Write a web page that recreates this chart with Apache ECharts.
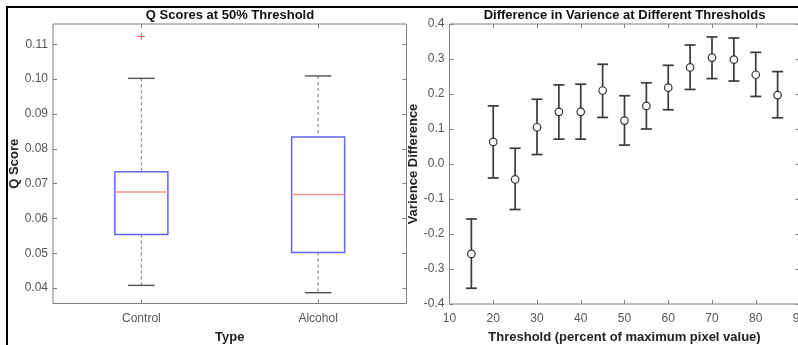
<!DOCTYPE html>
<html>
<head>
<meta charset="utf-8">
<script src="https://cdn.jsdelivr.net/npm/echarts@6/dist/echarts.min.js"></script>
<style>
  html, body { margin: 0; padding: 0; background: #fff; }
  #chart { width: 798px; height: 345px; }
</style>
</head>
<body>
<div id="chart"></div>
<script>
// left panel: box plot of Q scores
const boxCategories = ["Control", "Alcohol"];
const boxLower = [0.0408, 0.0387];
const boxQ1 = [0.0554, 0.0502];
const boxMedian = [0.0676, 0.0669];
const boxQ3 = [0.0734, 0.0834];
const boxUpper = [0.1002, 0.1009];
const outlierCategory = [0];
const outlierValue = [0.1122];
const qScoreTicks = [0.04, 0.05, 0.06, 0.07, 0.08, 0.09, 0.10, 0.11];

// right panel: variance difference with error bars
const thresholds = [15, 20, 25, 30, 35, 40, 45, 50, 55, 60, 65, 70, 75, 80, 85];
const varMean = [-0.257, 0.063, -0.044, 0.105, 0.149, 0.149, 0.210, 0.124, 0.166, 0.218, 0.276, 0.304, 0.298, 0.255, 0.197];
const varLow = [-0.355, -0.040, -0.130, 0.027, 0.071, 0.071, 0.133, 0.054, 0.100, 0.155, 0.213, 0.244, 0.237, 0.193, 0.132];
const varHigh = [-0.157, 0.166, 0.045, 0.185, 0.226, 0.228, 0.285, 0.195, 0.232, 0.282, 0.340, 0.363, 0.360, 0.319, 0.264];

const FONT = "Liberation Sans, Arial, sans-serif";
const axisGray = "#7f7f7f";
const labelGray = "#555555";

const chart = echarts.init(document.getElementById("chart"));

const boxData = boxCategories.map((c, i) => [i, boxLower[i], boxQ1[i], boxMedian[i], boxQ3[i], boxUpper[i]]);
const outlierData = outlierCategory.map((c, i) => [c, outlierValue[i]]);
const errData = thresholds.map((t, i) => [t, varLow[i], varHigh[i]]);
const meanData = thresholds.map((t, i) => [t, varMean[i]]);

function renderBox(params, api) {
  const idx = api.value(0);
  const band = api.size([1, 0])[0];
  const half = band * 0.15;
  const cap = half / 2;
  const lo = api.coord([idx, api.value(1)]);
  const q1 = api.coord([idx, api.value(2)]);
  const med = api.coord([idx, api.value(3)]);
  const q3 = api.coord([idx, api.value(4)]);
  const hi = api.coord([idx, api.value(5)]);
  const x = lo[0];
  const dash = { stroke: "#8a8a8a", lineWidth: 1.2, lineDash: [3, 3] };
  const capStyle = { stroke: "#505050", lineWidth: 1.4 };
  return {
    type: "group",
    children: [
      { type: "line", shape: { x1: x, y1: hi[1], x2: x, y2: q3[1] }, style: dash },
      { type: "line", shape: { x1: x, y1: q1[1], x2: x, y2: lo[1] }, style: dash },
      { type: "line", shape: { x1: x - cap, y1: hi[1], x2: x + cap, y2: hi[1] }, style: capStyle },
      { type: "line", shape: { x1: x - cap, y1: lo[1], x2: x + cap, y2: lo[1] }, style: capStyle },
      { type: "rect", shape: { x: x - half, y: q3[1], width: half * 2, height: q1[1] - q3[1] },
        style: { fill: "none", stroke: "#6464ff", lineWidth: 1.5 } },
      { type: "line", shape: { x1: x - half, y1: med[1], x2: x + half, y2: med[1] },
        style: { stroke: "#ff9090", lineWidth: 1.5 } }
    ]
  };
}

function renderOutlier(params, api) {
  const p = api.coord([api.value(0), api.value(1)]);
  const s = 3.5;
  const st = { stroke: "#ff5050", lineWidth: 1 };
  return {
    type: "group",
    children: [
      { type: "line", shape: { x1: p[0] - s, y1: p[1], x2: p[0] + s, y2: p[1] }, style: st },
      { type: "line", shape: { x1: p[0], y1: p[1] - s, x2: p[0], y2: p[1] + s }, style: st }
    ]
  };
}

function renderErr(params, api) {
  const lo = api.coord([api.value(0), api.value(1)]);
  const hi = api.coord([api.value(0), api.value(2)]);
  const w = 5.5;
  const st = { stroke: "#3a3a3a", lineWidth: 1.7 };
  return {
    type: "group",
    children: [
      { type: "line", shape: { x1: lo[0], y1: lo[1], x2: hi[0], y2: hi[1] }, style: st },
      { type: "line", shape: { x1: lo[0] - w, y1: lo[1], x2: lo[0] + w, y2: lo[1] }, style: st },
      { type: "line", shape: { x1: hi[0] - w, y1: hi[1], x2: hi[0] + w, y2: hi[1] }, style: st }
    ]
  };
}

const noLine = { show: false, onZero: false };
const tickStyle = { show: true, inside: true, length: 4, lineStyle: { color: axisGray, width: 1 } };
const labelStyle = { color: labelGray, fontSize: 12, fontFamily: FONT };
const nameStyle = { color: "#222", fontSize: 13, fontWeight: "bold", fontFamily: FONT };

const option = {
  animation: false,
  backgroundColor: "#fff",
  grid: [
    { left: 53, top: 24, width: 353.5, height: 279.5, show: true, borderColor: axisGray, borderWidth: 1, outerBoundsMode: "none", containLabel: false },
    { left: 449.5, top: 24, width: 350, height: 280, show: true, borderColor: axisGray, borderWidth: 1, outerBoundsMode: "none", containLabel: false }
  ],
  xAxis: [
    {
      type: "category", gridIndex: 0, data: boxCategories, position: "bottom",
      axisLine: noLine,
      axisTick: { ...tickStyle, alignWithLabel: true },
      axisLabel: { ...labelStyle, margin: 9 },
      name: "Type", nameLocation: "middle", nameGap: 27, nameTextStyle: nameStyle
    },
    {
      type: "category", gridIndex: 0, data: boxCategories, position: "top",
      axisLine: noLine,
      axisTick: { ...tickStyle, alignWithLabel: true },
      axisLabel: { show: false }
    },
    {
      type: "value", gridIndex: 1, min: 10, max: 90, interval: 10, position: "bottom",
      axisLine: noLine, splitLine: { show: false },
      axisTick: tickStyle,
      axisLabel: { ...labelStyle, margin: 9 },
      name: "Threshold (percent of maximum pixel value)", nameLocation: "middle", nameGap: 27,
      nameTextStyle: nameStyle
    },
    {
      type: "value", gridIndex: 1, min: 10, max: 90, interval: 10, position: "top",
      axisLine: noLine, splitLine: { show: false },
      axisTick: tickStyle, axisLabel: { show: false }
    }
  ],
  yAxis: [
    {
      type: "value", gridIndex: 0, min: 0.0356, max: 0.1158, position: "left",
      axisLine: noLine, splitLine: { show: false },
      axisTick: { ...tickStyle, customValues: qScoreTicks },
      axisLabel: { ...labelStyle, margin: 5, customValues: qScoreTicks, formatter: v => v.toFixed(2) },
      name: "Q Score", nameLocation: "middle", nameGap: 29, nameTextStyle: nameStyle
    },
    {
      type: "value", gridIndex: 0, min: 0.0356, max: 0.1158, position: "right",
      axisLine: noLine, splitLine: { show: false },
      axisTick: { ...tickStyle, customValues: qScoreTicks },
      axisLabel: { show: false }
    },
    {
      type: "value", gridIndex: 1, min: -0.4, max: 0.4, interval: 0.1, position: "left",
      axisLine: noLine, splitLine: { show: false },
      axisTick: tickStyle,
      axisLabel: { ...labelStyle, margin: 5, formatter: v => (Math.abs(v) < 1e-9 ? "0.0" : v.toFixed(1)) },
      name: "Varience Difference", nameLocation: "middle", nameGap: 25, nameTextStyle: nameStyle
    },
    {
      type: "value", gridIndex: 1, min: -0.4, max: 0.4, interval: 0.1, position: "right",
      axisLine: noLine, splitLine: { show: false },
      axisTick: tickStyle, axisLabel: { show: false }
    }
  ],
  graphic: [
    { type: "text", x: 230, y: 15, style: { text: "Q Scores at 50% Threshold", font: "bold 13px " + FONT, fill: "#111", align: "center", verticalAlign: "middle" } },
    { type: "text", x: 624.5, y: 15, style: { text: "Difference in Varience at Different Thresholds", font: "bold 13px " + FONT, fill: "#111", align: "center", verticalAlign: "middle" } },
    { type: "line", shape: { x1: 7, y1: 7, x2: 798, y2: 7 }, style: { stroke: "#000", lineWidth: 2 } },
    { type: "line", shape: { x1: 7, y1: 6, x2: 7, y2: 345 }, style: { stroke: "#000", lineWidth: 2 } }
  ],
  series: [
    { type: "custom", xAxisIndex: 0, yAxisIndex: 0, data: boxData, renderItem: renderBox },
    { type: "custom", xAxisIndex: 0, yAxisIndex: 0, data: outlierData, renderItem: renderOutlier },
    { type: "custom", xAxisIndex: 2, yAxisIndex: 2, data: errData, renderItem: renderErr },
    {
      type: "scatter", xAxisIndex: 2, yAxisIndex: 2, data: meanData,
      symbol: "circle", symbolSize: 7.5,
      itemStyle: { color: "#fff", borderColor: "#333", borderWidth: 1.2, opacity: 1 }
    }
  ]
};

chart.setOption(option);
</script>
</body>
</html>
